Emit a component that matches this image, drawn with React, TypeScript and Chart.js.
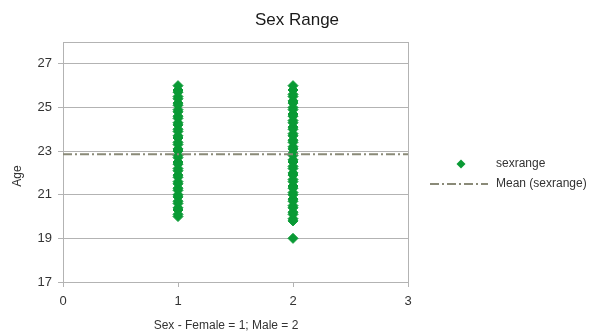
import { useEffect, useRef } from 'react';
import { Chart, registerables } from 'chart.js';

Chart.register(...registerables);

// Sex codes on the x axis
const FEMALE_CODE = 1;
const MALE_CODE = 2;

// Ages of the respondents, by sex
const FEMALE_AGES = [
  20.0, 20.1, 20.3, 20.4, 20.6, 20.7, 20.9, 21.0, 21.2, 21.3, 21.5, 21.6, 21.8, 21.9,
  22.1, 22.2, 22.4, 22.5, 22.7, 22.8, 23.0, 23.1, 23.3, 23.4, 23.6, 23.7, 23.9, 24.0,
  24.2, 24.3, 24.5, 24.6, 24.8, 24.9, 25.1, 25.2, 25.4, 25.5, 25.7, 25.8, 26.0,
];
const MALE_AGES = [
  19.0, 19.8, 19.9, 20.1, 20.2, 20.4, 20.5, 20.7, 20.8, 21.0, 21.1, 21.3, 21.4, 21.6,
  21.7, 21.9, 22.0, 22.2, 22.3, 22.5, 22.6, 22.8, 22.9, 23.1, 23.2, 23.4, 23.5, 23.7,
  23.8, 24.0, 24.1, 24.3, 24.4, 24.6, 24.7, 24.9, 25.0, 25.2, 25.3, 25.5, 25.6, 25.8,
  26.0,
];

// Mean value line of the series
const MEAN_AGE = 22.86;

// Axes
const X_MIN = 0;
const X_MAX = 3;
const X_TICKS = [0, 1, 2, 3];
const Y_MIN = 17;
const Y_MAX = 28;
const Y_TICKS = [17, 19, 21, 23, 25, 27];

const TITLE = 'Sex Range';
const X_TITLE = 'Sex - Female = 1; Male = 2';
const Y_TITLE = 'Age';
const SERIES_LABEL = 'sexrange';
const MEAN_LABEL = 'Mean (sexrange)';

const FONT = "'Liberation Sans', Arial, sans-serif";
const GREEN = '#0a9a35';
const MEAN_COLOR = '#8a8a78';
const GRID = '#b3b3b3';
const TEXT = '#333333';
const MEAN_DASH = [9, 3, 2, 3];

const decorations = {
  id: 'decorations',
  beforeDatasetsDraw(chart: any) {
    const { ctx, chartArea } = chart;
    ctx.save();
    ctx.strokeStyle = GRID;
    ctx.lineWidth = 1;
    ctx.beginPath();
    ctx.moveTo(chartArea.left, Math.round(chartArea.top) + 0.5);
    ctx.lineTo(chartArea.right, Math.round(chartArea.top) + 0.5);
    ctx.stroke();
    ctx.restore();
  },
  afterDraw(chart: any) {
    const { ctx } = chart;
    ctx.save();

    // Title
    ctx.fillStyle = '#1a1a1a';
    ctx.font = `17px ${FONT}`;
    ctx.textAlign = 'center';
    ctx.textBaseline = 'alphabetic';
    ctx.fillText(TITLE, 297, 25);

    // Axis titles
    ctx.fillStyle = TEXT;
    ctx.font = `12px ${FONT}`;
    ctx.textBaseline = 'middle';
    ctx.fillText(X_TITLE, 226, 326);
    ctx.save();
    ctx.translate(18, 176);
    ctx.rotate(-Math.PI / 2);
    ctx.fillText(Y_TITLE, 0, 0);
    ctx.restore();

    // Legend
    const dx = 461;
    const dy = 164;
    const r = 4.5;
    ctx.fillStyle = GREEN;
    ctx.beginPath();
    ctx.moveTo(dx - r, dy);
    ctx.lineTo(dx, dy - r);
    ctx.lineTo(dx + r, dy);
    ctx.lineTo(dx, dy + r);
    ctx.closePath();
    ctx.fill();

    ctx.strokeStyle = MEAN_COLOR;
    ctx.lineWidth = 2;
    ctx.setLineDash(MEAN_DASH);
    ctx.beginPath();
    ctx.moveTo(430, 184);
    ctx.lineTo(488, 184);
    ctx.stroke();
    ctx.setLineDash([]);

    ctx.fillStyle = TEXT;
    ctx.textAlign = 'left';
    ctx.font = `12px ${FONT}`;
    ctx.fillText(SERIES_LABEL, 496, 164);
    ctx.fillText(MEAN_LABEL, 496, 184);

    ctx.restore();
  },
};

export default function App() {
  const canvasRef = useRef<HTMLCanvasElement | null>(null);

  useEffect(() => {
    const canvas = canvasRef.current;
    if (!canvas) return;

    const points = [
      ...FEMALE_AGES.map((age) => ({ x: FEMALE_CODE, y: age })),
      ...MALE_AGES.map((age) => ({ x: MALE_CODE, y: age })),
    ];

    const chart = new Chart(canvas, {
      type: 'scatter',
      data: {
        datasets: [
          {
            label: MEAN_LABEL,
            type: 'line',
            data: [
              { x: X_MIN, y: MEAN_AGE },
              { x: X_MAX, y: MEAN_AGE },
            ],
            borderColor: MEAN_COLOR,
            borderWidth: 2,
            borderDash: MEAN_DASH,
            pointRadius: 0,
            fill: false,
            order: 0,
          } as any,
          {
            label: SERIES_LABEL,
            data: points,
            pointStyle: 'rectRot',
            pointRadius: 5,
            backgroundColor: GREEN,
            borderColor: GREEN,
            borderWidth: 1,
            showLine: false,
            order: 1,
          },
        ],
      },
      options: {
        responsive: false,
        animation: false,
        devicePixelRatio: 1,
        layout: { padding: { top: 42, right: 186, left: 0, bottom: 0 } },
        plugins: {
          legend: { display: false },
          title: { display: false },
          tooltip: { enabled: false },
        },
        scales: {
          x: {
            type: 'linear',
            min: X_MIN,
            max: X_MAX,
            afterBuildTicks: (s: any) => {
              s.ticks = X_TICKS.map((v) => ({ value: v }));
            },
            afterFit: (s: any) => {
              s.height = 53;
            },
            grid: {
              color: (c: any) => (c.tick && c.tick.value === X_MAX ? GRID : 'rgba(0,0,0,0)'),
              tickColor: GRID,
              tickLength: 5,
            },
            border: { color: GRID },
            ticks: {
              padding: 7,
              color: TEXT,
              font: { family: FONT, size: 13 },
              maxRotation: 0,
            },
          },
          y: {
            type: 'linear',
            min: Y_MIN,
            max: Y_MAX,
            afterBuildTicks: (s: any) => {
              s.ticks = Y_TICKS.map((v) => ({ value: v }));
            },
            afterFit: (s: any) => {
              s.width = 63;
            },
            grid: {
              color: GRID,
              tickColor: GRID,
              tickLength: 5,
            },
            border: { color: GRID },
            ticks: {
              padding: 6,
              color: TEXT,
              font: { family: FONT, size: 13 },
            },
          },
        },
      },
      plugins: [decorations],
    });

    return () => chart.destroy();
  }, []);

  return (
    <div style={{ position: 'absolute', left: 0, top: 0, width: 594, height: 335, background: '#ffffff' }}>
      <canvas ref={canvasRef} width={594} height={335} style={{ display: 'block' }} />
    </div>
  );
}
